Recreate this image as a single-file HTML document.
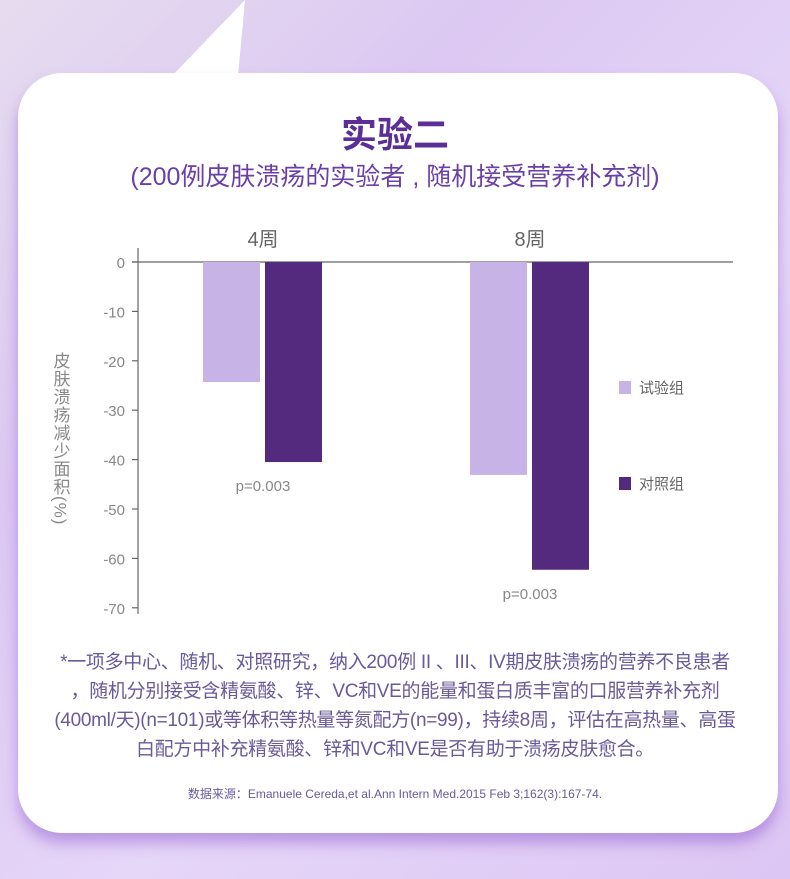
<!DOCTYPE html>
<html><head><meta charset="utf-8">
<style>
html,body{margin:0;padding:0}
body{width:790px;height:879px;position:relative;overflow:hidden;font-family:"Liberation Sans","Noto Sans CJK SC",sans-serif;
background:linear-gradient(135deg,#e6dcef 0%,#dcc8f2 30%,#e6d6f8 60%,#dcc6f4 100%);}
.card{position:absolute;left:18px;top:73px;width:760px;height:760px;background:#fff;border-radius:44px;box-shadow:0 10px 14px rgba(150,100,210,0.55);}
.t{position:absolute;left:0;width:790px;text-align:center}
.fn{white-space:nowrap}
</style></head><body>
<svg style="position:absolute;left:0;top:0" width="790" height="100"><polygon points="172,76 245,0 238,76" fill="#fff"/></svg>
<div class="card"></div>
<div class="t" style="top:106px;font-size:36px;color:#5b2f96;font-weight:bold">实验二</div>
<div class="t" style="top:157px;font-size:25px;color:#6a3fa6">(200例皮肤溃疡的实验者 , 随机接受营养补充剂)</div>
<svg id="chart" style="position:absolute;left:0;top:0" width="790" height="630"></svg>
<div class="t" style="top:648px;font-size:19px;line-height:29px;color:#6a5a98;letter-spacing:-0.3px">
<div class="fn">*一项多中心、随机、对照研究，纳入200例 II 、III、IV期皮肤溃疡的营养不良患者</div>
<div class="fn">，随机分别接受含精氨酸、锌、VC和VE的能量和蛋白质丰富的口服营养补充剂</div>
<div class="fn">(400ml/天)(n=101)或等体积等热量等氮配方(n=99)，持续8周，评估在高热量、高蛋</div>
<div class="fn">白配方中补充精氨酸、锌和VC和VE是否有助于溃疡皮肤愈合。</div>
</div>
<div class="t" style="top:785px;font-size:12px;color:#6a5a98">数据来源：Emanuele Cereda,et al.Ann Intern Med.2015 Feb 3;162(3):167-74.</div>
<script>
const categories=["4周","8周"];
const trialValues=[-24.3,-43.1];
const controlValues=[-40.5,-62.3];
const yTicks=[0,-10,-20,-30,-40,-50,-60,-70];
const pLabels=["p=0.003","p=0.003"];
const seriesNames=["试验组","对照组"];
const NS="http://www.w3.org/2000/svg";
const svg=document.getElementById("chart");
const y0=262,pxPer=4.94;
function y(v){return y0-v*pxPer;}
const groupX=[203,470];
function x(i){return groupX[0]+i*(groupX[1]-groupX[0]);}
function mk(tag,a){const e=document.createElementNS(NS,tag);for(const k in a)e.setAttribute(k,a[k]);svg.appendChild(e);return e;}
let ax=mk("line",{x1:138,y1:248,x2:138,y2:614,stroke:"#666","stroke-width":1.2});


let bl=mk("line",{x1:132,y1:y(0),x2:733,y2:y(0),stroke:"#666","stroke-width":1.2});


yTicks.forEach(t=>{
 mk("line",{x1:132,y1:y(t),x2:138,y2:y(t),stroke:"#666","stroke-width":1.2});
 const tx=mk("text",{x:125,y:y(t)+6,"text-anchor":"end","font-size":15,fill:"#888"});
 tx.textContent=t;
 
 
});
categories.forEach((c,i)=>{
 const bx=x(i);
 const r1=mk("rect",{x:bx,y:y(0),width:57,height:y(trialValues[i])-y(0),fill:"#c8b3e6"});
 
 
 const r2=mk("rect",{x:bx+62,y:y(0),width:57,height:y(controlValues[i])-y(0),fill:"#542a7e"});
 
 
 const cl=mk("text",{x:bx+60,y:246,"text-anchor":"middle","font-size":20,fill:"#666"});
 cl.textContent=c;
 
 
 const lowest=Math.min(trialValues[i],controlValues[i]);
 const pl=mk("text",{x:bx+60,y:y(lowest)+29,"text-anchor":"middle","font-size":15,fill:"#888"});
 pl.textContent=pLabels[i];
 
 
});
const colors=["#c8b3e6","#542a7e"],ly=[381,477];
seriesNames.forEach((n,i)=>{
 const s=mk("rect",{x:619,y:ly[i],width:12,height:13,fill:colors[i]});
 
 
 const t=mk("text",{x:639,y:ly[i]+12,"font-size":15,fill:"#666"});
 t.textContent=n;
 
 
});
const yt=mk("text",{x:0,y:0,"font-size":17,fill:"#888","writing-mode":"tb",transform:"translate(60,352)","letter-spacing":"1"});
yt.textContent="皮肤溃疡减少面积(%)";


</script>
</body></html>
